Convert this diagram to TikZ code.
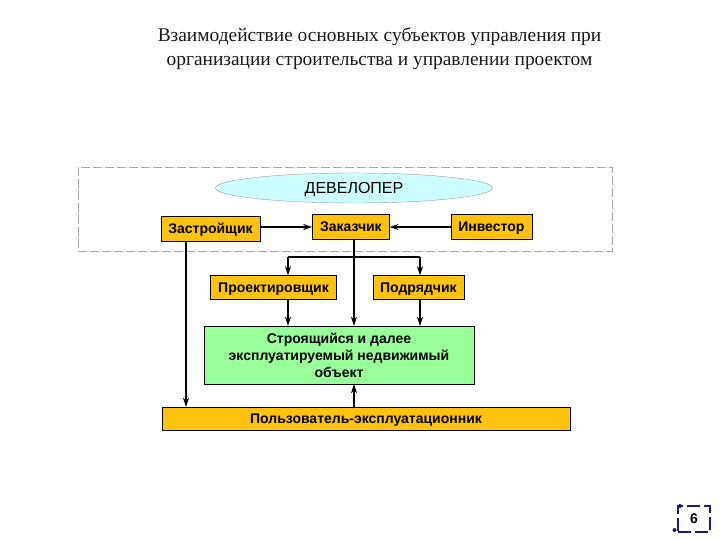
\documentclass[tikz,border=0pt]{standalone}
\usepackage{fontspec}
\setmainfont{Liberation Sans}
\newfontfamily\titlefont{Liberation Serif}
\usetikzlibrary{positioning,shapes.geometric,arrows.meta}
\definecolor{boxorange}{HTML}{FFC20E}
\definecolor{objgreen}{HTML}{99FF99}
\definecolor{devcyan}{HTML}{CCFFFF}
\definecolor{pagenavy}{HTML}{1A1A80}
\tikzset{
    rolebox/.style={draw=black, fill=boxorange, inner sep=0pt, text height=10pt, text depth=0pt, font=\fontsize{14}{15}\selectfont\bfseries},
    conn/.style={draw=black, line width=1.3pt},
    arr/.style={conn, -{Stealth[length=9pt,width=6pt]}}
}
\begin{document}
\begin{tikzpicture}[x=1pt, y=-1pt]
    \useasboundingbox (0,0) rectangle (720,540);
    \node (title) at (379.5,49) [align=center, font=\titlefont\fontsize{19.4}{24}\selectfont, text=black!90]
        {Взаимодействие основных субъектов управления при\\организации строительства и управлении проектом};
    \node (frame) at (345,209) [draw=black!35, dash pattern=on 9pt off 3pt, minimum width=534pt, minimum height=84pt, inner sep=0pt] {};
    \node (devel) at (354,188) [ellipse, draw=black!40, fill=devcyan, minimum width=277pt, minimum height=30pt, inner sep=0pt, text height=11pt, text depth=0pt, font=\fontsize{16}{18}\selectfont] {ДЕВЕЛОПЕР};
    \node (zastr) at (210.5,228.5) [rolebox, minimum width=99pt, minimum height=25pt] {Застройщик};
    \node (zak) [rolebox, right = 52pt of zastr, yshift=1.5pt, minimum width=77pt, minimum height=25pt] {Заказчик};
    \node (inv) [rolebox, right = 61pt of zak, minimum width=81pt, minimum height=25pt] {Инвестор};
    \node (proj) at (273.5,287.5) [rolebox, minimum width=126pt, minimum height=24pt] {Проектировщик};
    \node (podr) [rolebox, right = 36pt of proj, minimum width=91pt, minimum height=24pt] {Подрядчик};
    \node (obj) at (339,355) [draw=black, fill=objgreen, minimum width=270pt, minimum height=58pt, inner sep=0pt, align=center, font=\fontsize{14}{17}\selectfont\bfseries]
        {Строящийся и далее\\эксплуатируемый недвижимый\\объект};
    \node (user) at (366,418.5) [rolebox, minimum width=408pt, minimum height=23pt] {Пользователь-эксплуатационник};
    \coordinate (zastrout) at (186,241);
    \coordinate (branchl) at (288,257);
    \coordinate (branchr) at (420,257);
    \draw[arr] (zastr.east |- zak) -- (zak.west);
    \draw[arr] (inv.west) -- (zak.east);
    \draw[arr] (zastrout) -- (user.north -| zastrout);
    \draw[arr] (zak.south -| devel) -- (obj.north -| devel);
    \draw[conn] (branchl) -- (branchr);
    \draw[arr] (branchl) -- (proj.north -| branchl);
    \draw[arr] (branchr) -- (podr.north -| branchr);
    \draw[arr] (proj.south -| branchl) -- (obj.north -| branchl);
    \draw[arr] (podr.south -| branchr) -- (obj.north -| branchr);
    \draw[arr] (user.north -| devel) -- (obj.south -| devel);
    % page number
    \node (page) at (694,519) [draw=pagenavy, line width=1.2pt, dash pattern=on 13pt off 4pt, minimum width=32pt, minimum height=26pt, inner sep=0pt, font=\fontsize{14}{16}\selectfont\bfseries] {6};
    \fill[pagenavy] (680,506) circle (2pt) (674.5,530) circle (2pt);
\end{tikzpicture}
\end{document}
